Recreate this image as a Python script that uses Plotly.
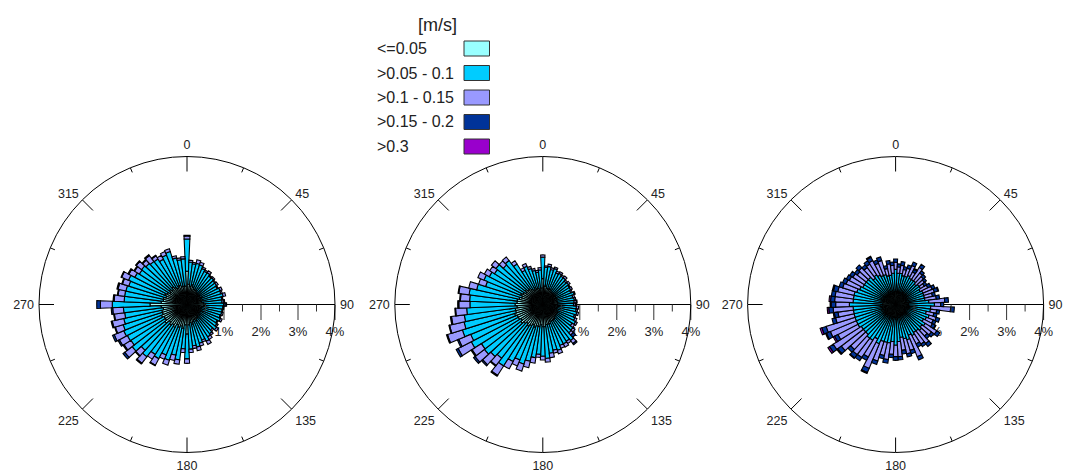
import math
import plotly.graph_objects as go

# ---------------- data ----------------
directions = list(range(0, 360, 5))  # 72 sectors, 5 deg each

speed_classes = ["<=0.05", ">0.05 - 0.1", ">0.1 - 0.15", ">0.15 - 0.2", ">0.3"]
class_colors = ["#99FFFF", "#00CCFF", "#9999FF", "#003399", "#9900CC"]
legend_title = "[m/s]"

angular_labels = [0, 45, 90, 135, 180, 225, 270, 315]
angular_minor = [22.5, 67.5, 112.5, 157.5, 202.5, 247.5, 292.5, 337.5]
radial_ticks = [1, 2, 3, 4]
radial_ticktext = ["1%", "2%", "3%", "4%"]
radial_minor = [0.5, 1.5, 2.5, 3.5]

# Rose 1 (percent frequency per sector, by speed class)
r1_c1 = [0.90,0.55,0.50,0.55,0.50,0.45,0.45,0.45,0.40, 0.40,0.40,0.40,0.40,0.45,0.40,0.45,0.40,0.45,
         0.50,0.45,0.40,0.40,0.40,0.45,0.40,0.40,0.45, 0.40,0.45,0.45,0.50,0.45,0.50,0.55,0.50,0.55,
         0.80,0.55,0.65,0.60,0.65,0.60,0.70,0.65,0.70, 0.65,0.75,0.70,0.70,0.75,0.70,0.70,0.65,0.70,
         1.00,0.70,0.65,0.65,0.60,0.65,0.60,0.55,0.60, 0.55,0.60,0.55,0.50,0.55,0.55,0.50,0.50,0.50]
r1_c2 = [0.87,0.60,0.61,0.59,0.62,0.60,0.56,0.57,0.57, 0.58,0.55,0.55,0.52,0.52,0.56,0.55,0.55,0.50,
         0.49,0.52,0.56,0.56,0.54,0.53,0.52,0.56,0.56, 0.54,0.55,0.59,0.62,0.59,0.60,0.63,0.63,0.66,
         0.67,0.65,0.86,0.80,0.93,0.88,0.95,0.95,1.08, 1.03,1.12,1.10,1.12,1.10,1.11,1.05,1.05,1.02,
         1.02,1.00,1.05,1.04,1.05,1.06,0.99,0.98,0.95, 0.96,0.87,0.91,0.88,0.90,0.95,0.79,0.72,0.74]
r1_c3 = [0.08,0.05,0.04,0.10,0.08,0.05,0.04,0.06,0.03, 0.04,0.03,0.05,0.03,0.06,0.04,0.07,0.03,0.05,
         0.04,0.03,0.02,0.04,0.03,0.05,0.03,0.04,0.06, 0.04,0.05,0.08,0.10,0.06,0.08,0.10,0.07,0.09,
         0.12,0.10,0.12,0.15,0.14,0.12,0.20,0.15,0.22, 0.20,0.25,0.22,0.24,0.28,0.22,0.32,0.28,0.29,
         0.32,0.27,0.18,0.22,0.18,0.20,0.18,0.15,0.18, 0.12,0.20,0.10,0.12,0.10,0.08,0.06,0.05,0.06]
r1_c4 = [0.02,0,0,0,0,0,0,0,0, 0,0,0,0,0,0,0,0,0.02,
         0.04,0,0,0,0,0,0,0,0, 0,0,0,0,0,0,0,0,0,
         0,0,0,0,0,0,0.02,0,0.03, 0.02,0.06,0.03,0.04,0.05,0.02,0.03,0.02,0.04,
         0.10,0.03,0.02,0.03,0.02,0.02,0.03,0.02,0.02, 0.02,0.03,0.02,0,0,0,0,0,0]
r1_c5 = [0] * 72

# Rose 2
r2_c1 = [0.70,0.50,0.50,0.45,0.45,0.45,0.45,0.40,0.40, 0.40,0.40,0.40,0.40,0.40,0.40,0.40,0.40,0.40,
         0.40,0.40,0.40,0.40,0.40,0.45,0.45,0.45,0.45, 0.45,0.50,0.50,0.50,0.50,0.55,0.55,0.55,0.60,
         0.60,0.55,0.60,0.60,0.65,0.60,0.65,0.70,0.65, 0.70,0.75,0.70,0.75,0.75,0.80,0.75,0.75,0.70,
         0.75,0.70,0.70,0.65,0.60,0.65,0.60,0.55,0.60, 0.55,0.55,0.50,0.45,0.50,0.45,0.45,0.40,0.45]
r2_c2 = [0.58,0.51,0.54,0.52,0.57,0.47,0.50,0.51,0.51, 0.46,0.48,0.45,0.45,0.42,0.49,0.43,0.46,0.45,
         0.43,0.51,0.51,0.54,0.50,0.49,0.55,0.49,0.58, 0.59,0.73,0.68,0.70,0.70,0.75,0.72,0.78,0.86,
         0.80,0.80,0.85,0.97,1.04,1.02,1.09,1.27,1.18, 1.21,1.24,1.27,1.43,1.36,1.48,1.43,1.39,1.36,
         1.22,1.28,1.31,1.18,1.02,1.07,1.03,1.00,1.00, 0.90,0.95,0.80,0.59,0.62,0.57,0.49,0.48,0.49]
r2_c3 = [0.06,0.04,0.06,0.05,0.04,0.06,0.05,0.04,0.06, 0.04,0.05,0.03,0.05,0.04,0.03,0.05,0.04,0.06,
         0.05,0.06,0.04,0.05,0.04,0.06,0.05,0.08,0.07, 0.08,0.10,0.07,0.10,0.08,0.10,0.08,0.12,0.10,
         0.10,0.08,0.15,0.18,0.20,0.18,0.22,0.30,0.25, 0.30,0.32,0.30,0.40,0.35,0.42,0.40,0.35,0.30,
         0.30,0.25,0.28,0.22,0.20,0.18,0.15,0.15,0.15, 0.15,0.12,0.10,0.08,0.08,0.06,0.06,0.05,0.06]
r2_c4 = [0,0,0,0,0,0,0,0,0, 0,0,0,0,0,0,0,0,0.02,
         0.03,0,0,0,0,0,0,0,0, 0.08,0.04,0,0,0,0,0,0,0,
         0,0,0,0,0,0,0,0.03,0.02, 0.04,0.05,0.03,0.06,0.04,0.03,0.02,0.03,0.02,
         0.03,0.02,0.02,0,0,0,0,0,0, 0,0,0,0,0,0,0,0,0]
r2_c5 = [0] * 72

# Rose 3
r3_c1 = [0.40,0.35,0.35,0.35,0.30,0.35,0.35,0.30,0.35, 0.30,0.35,0.30,0.30,0.35,0.30,0.35,0.30,0.35,
         0.35,0.30,0.35,0.30,0.35,0.30,0.30,0.35,0.30, 0.35,0.30,0.35,0.35,0.30,0.35,0.35,0.30,0.35,
         0.40,0.35,0.35,0.40,0.35,0.40,0.35,0.40,0.35, 0.40,0.35,0.40,0.40,0.35,0.40,0.35,0.40,0.35,
         0.40,0.35,0.40,0.35,0.40,0.35,0.35,0.30,0.35, 0.35,0.30,0.35,0.35,0.30,0.35,0.30,0.35,0.35]
r3_c2 = [0.55,0.50,0.50,0.45,0.50,0.50,0.45,0.50,0.45, 0.45,0.45,0.50,0.45,0.45,0.50,0.45,0.50,0.55,
         0.70,0.65,0.60,0.55,0.60,0.60,0.55,0.60,0.60, 0.60,0.60,0.55,0.60,0.60,0.65,0.60,0.60,0.65,
         0.70,0.65,0.70,0.65,0.70,0.75,0.70,0.75,0.80, 0.70,0.75,0.70,0.75,0.80,0.75,0.80,0.75,0.80,
         0.85,0.80,0.75,0.80,0.70,0.70,0.65,0.70,0.65, 0.65,0.60,0.60,0.55,0.55,0.50,0.50,0.45,0.50]
r3_c3 = [0.19,0.17,0.22,0.17,0.23,0.29,0.19,0.39,0.27, 0.27,0.18,0.12,0.23,0.27,0.30,0.22,0.31,0.43,
         0.17,0.54,0.17,0.21,0.20,0.20,0.27,0.37,0.32, 0.21,0.43,0.37,0.25,0.63,0.30,0.42,0.35,0.41,
         0.31,0.35,0.45,0.36,0.55,0.72,0.55,0.55,0.56, 0.55,0.75,0.90,0.61,0.76,0.82,0.51,0.42,0.54,
         0.37,0.50,0.50,0.45,0.40,0.40,0.41,0.37,0.31, 0.35,0.36,0.35,0.44,0.36,0.40,0.20,0.31,0.21]
r3_c4 = [0.09,0.08,0.10,0.08,0.09,0.10,0.08,0.10,0.08, 0.08,0.07,0.08,0.09,0.08,0.10,0.08,0.09,0.10,
         0.08,0.10,0.08,0.09,0.10,0.08,0.09,0.10,0.08, 0.09,0.10,0.08,0.10,0.09,0.10,0.08,0.10,0.09,
         0.10,0.09,0.10,0.09,0.10,0.12,0.10,0.10,0.11, 0.10,0.12,0.12,0.10,0.11,0.12,0.10,0.10,0.12,
         0.12,0.11,0.10,0.12,0.10,0.10,0.09,0.10,0.09, 0.10,0.09,0.10,0.10,0.09,0.10,0.08,0.09,0.09]
r3_c5 = [0,0,0,0,0,0,0.03,0,0, 0,0,0,0,0,0.02,0,0,0,
         0,0,0,0,0,0,0.02,0,0, 0,0,0,0,0,0,0,0,0,
         0,0,0,0,0,0.03,0,0,0.02, 0,0.03,0.05,0.04,0.03,0.05,0,0.03,0.04,
         0.03,0.04,0,0.03,0,0,0,0,0, 0,0,0,0.03,0,0,0,0,0]

roses = [
    [r1_c1, r1_c2, r1_c3, r1_c4, r1_c5],
    [r2_c1, r2_c2, r2_c3, r2_c4, r2_c5],
    [r3_c1, r3_c2, r3_c3, r3_c4, r3_c5],
]

# ---------------- figure ----------------
W, H = 1065, 472
FONT = "Liberation Sans, Arial, Helvetica, sans-serif"
RMAX = 4.0
RADIUS_PX = 148.0
centers_px = [(187, 304.5), (542.8, 304.5), (895.6, 304.5)]
polar_names = ["polar", "polar2", "polar3"]

fig = go.Figure()
px_per_r = RADIUS_PX / RMAX

for pi, series in enumerate(roses):
    sub = polar_names[pi]
    for ci, vals in enumerate(series):
        th = [d for d, v in zip(directions, vals) if v > 0]
        rr = [v for v in vals if v > 0]
        if not rr:
            continue
        fig.add_trace(go.Barpolar(
            r=rr, theta=th, width=5,
            marker=dict(color=class_colors[ci], line=dict(color="black", width=1.1)),
            name=speed_classes[ci], subplot=sub, showlegend=False, hoverinfo="skip",
        ))

    # angular ticks on the inside of the outer circle (long at 45s, short at 22.5s)
    tr, tt = [], []
    for a in angular_labels:
        tr += [RMAX - 15 / px_per_r, RMAX, None]
        tt += [a, a, None]
    for a in angular_minor:
        tr += [RMAX - 5 / px_per_r, RMAX, None]
        tt += [a, a, None]
    fig.add_trace(go.Scatterpolar(
        r=tr, theta=tt, mode="lines", line=dict(color="black", width=1),
        subplot=sub, showlegend=False, hoverinfo="skip", cliponaxis=False,
    ))
    # minor radial ticks (0.5 steps), pointing downward from the 90-degree axis
    mr, mt = [], []
    rminor_len = 7 / px_per_r
    for v in radial_minor:
        mr += [v, math.hypot(v, rminor_len), None]
        mt += [90, 90 + math.degrees(math.atan2(rminor_len, v)), None]
    fig.add_trace(go.Scatterpolar(
        r=mr, theta=mt, mode="lines", line=dict(color="#333", width=1),
        subplot=sub, showlegend=False, hoverinfo="skip", cliponaxis=False,
    ))

layout_polars = {}
for pi, (cx, cy) in enumerate(centers_px):
    x0 = (cx - RADIUS_PX) / W
    x1 = (cx + RADIUS_PX) / W
    y0 = 1 - (cy + RADIUS_PX) / H
    y1 = 1 - (cy - RADIUS_PX) / H
    layout_polars[polar_names[pi]] = dict(
        domain=dict(x=[x0, x1], y=[y0, y1]),
        bgcolor="white",
        barmode="stack",
        radialaxis=dict(
            range=[0, RMAX], angle=0, side="clockwise",
            tickvals=radial_ticks, ticktext=radial_ticktext,
            ticks="outside", ticklen=15, tickcolor="#333", tickwidth=1,
            showline=True, linecolor="black", linewidth=1,
            showgrid=False, tickfont=dict(family=FONT, size=13, color="#222"),
            layer="below traces",
        ),
        angularaxis=dict(
            rotation=90, direction="clockwise",
            tickvals=angular_labels, ticktext=[str(a) for a in angular_labels],
            ticks="outside", ticklen=2, tickcolor="rgba(0,0,0,0)",
            showline=True, linecolor="black", linewidth=1,
            showgrid=False, tickfont=dict(family=FONT, size=12.5, color="#222"),
        ),
    )

fig.update_layout(
    width=W, height=H,
    margin=dict(l=0, r=0, t=0, b=0),
    paper_bgcolor="white", plot_bgcolor="white",
    showlegend=False,
    font=dict(family=FONT, color="#222"),
    **layout_polars,
)

# ---------------- custom legend (text left, swatch right) ----------------
row_y = [48.5, 73, 97.5, 122, 146.5]
annotations = [dict(
    x=437 / W, y=1 - 24.5 / H, xref="paper", yref="paper", text=legend_title,
    showarrow=False, xanchor="center", yanchor="middle",
    font=dict(family=FONT, size=18, color="#222"),
)]
shapes = []
for i, lab in enumerate(speed_classes):
    yc = row_y[i]
    annotations.append(dict(
        x=375 / W, y=1 - yc / H, xref="paper", yref="paper", text=lab,
        showarrow=False, xanchor="left", yanchor="middle",
        font=dict(family=FONT, size=16, color="#222"),
    ))
    shapes.append(dict(
        type="rect", xref="paper", yref="paper",
        x0=464 / W, x1=489.5 / W,
        y0=1 - (yc + 7.5) / H, y1=1 - (yc - 7.5) / H,
        fillcolor=class_colors[i], line=dict(color="#333", width=1),
    ))
fig.update_layout(annotations=annotations, shapes=shapes)

# remove the default page margin so the figure fills the window exactly
fig.write_html(
    "out.html",
    config={"displayModeBar": False},
    post_script="document.body.style.margin='0px';document.body.style.overflow='hidden';",
)
